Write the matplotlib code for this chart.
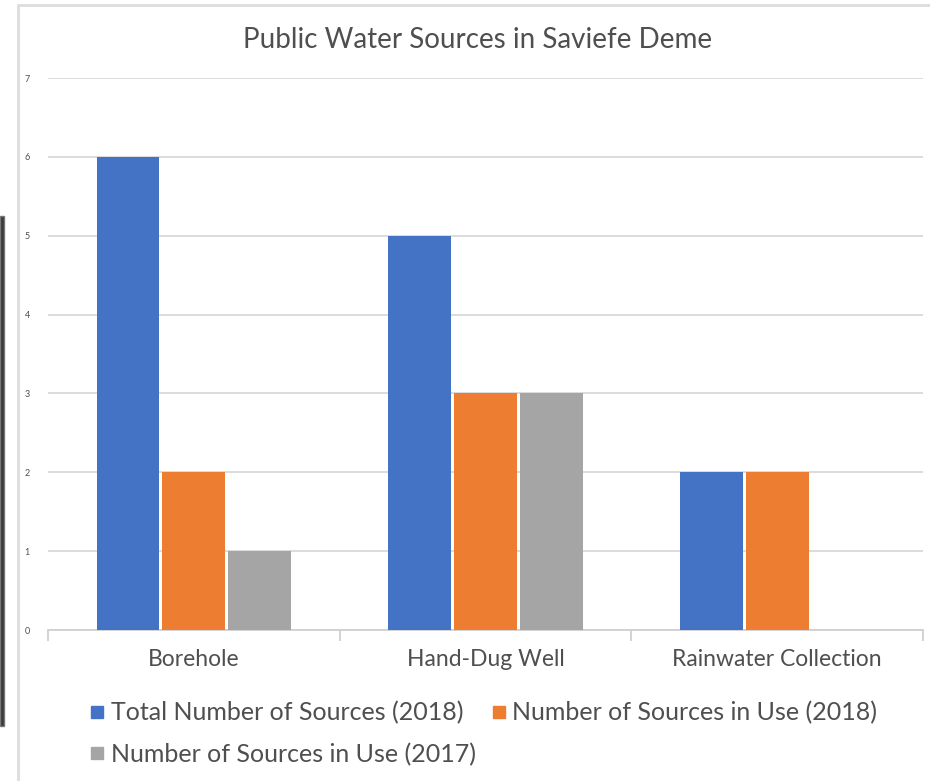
import numpy as np
import matplotlib
matplotlib.use("Agg")
import matplotlib.pyplot as plt
from matplotlib.patches import Rectangle
from matplotlib.lines import Line2D

# ── Data ──────────────────────────────────────────────────────────────
categories = ["Borehole", "Hand-Dug Well", "Rainwater Collection"]
series_names = [
    "Total Number of Sources (2018)",
    "Number of Sources in Use (2018)",
    "Number of Sources in Use (2017)",
]
total_2018 = [6, 5, 2]
in_use_2018 = [2, 3, 2]
in_use_2017 = [1, 3, 0]
y_ticks = [0, 1, 2, 3, 4, 5, 6, 7]

colors = ["#4472C4", "#ED7D31", "#A5A5A5"]
text_grey = "#4F4F4F"
grid_grey = "#D9D9D9"

plt.rcParams["font.family"] = ["Lato", "DejaVu Sans"]

W, H = 930, 781
fig = plt.figure(figsize=(W / 100, H / 100), dpi=100)
fig.patch.set_facecolor("white")

# chart frame (light border) and dark strip on the far left
fig.patches.append(Rectangle((17.5 / W, -0.05), 1.2, 1 - 4.5 / H + 0.05,
                             transform=fig.transFigure, fill=False,
                             edgecolor="#DDDDDD", linewidth=2))
fig.patches.append(Rectangle((0, 1 - 726 / H), 3.5 / W, 510 / H,
                             transform=fig.transFigure, facecolor="#3A3A3A",
                             edgecolor="#777777", linewidth=1))

ax = fig.add_axes([48 / W, 1 - 630 / H, (923 - 48) / W, (630 - 78) / H])

x = np.arange(len(categories))
bar_w = 0.215
gap = 0.011
series = [total_2018, in_use_2018, in_use_2017]
for i, (vals, c) in enumerate(zip(series, colors)):
    offs = (i - 1) * (bar_w + gap)
    ax.bar(x + offs, vals, width=bar_w, color=c, zorder=3)

ax.set_xlim(-0.5, len(categories) - 0.5)
ax.set_ylim(0, 7)
ax.set_yticks(y_ticks)
ax.set_yticklabels([str(t) for t in y_ticks], fontsize=6.5, color=text_grey)
ax.tick_params(axis="y", length=0, pad=13)
ax.yaxis.grid(True, color=grid_grey, linewidth=1.3, zorder=0)
ax.set_axisbelow(True)

# category labels, ticks at group boundaries
ax.set_xticks(x)
ax.set_xticklabels(categories, fontsize=16.5, color=text_grey)
ax.tick_params(axis="x", length=0, pad=14)
ax.set_xticks(np.arange(len(categories) + 1) - 0.5, minor=True)
ax.tick_params(axis="x", which="minor", length=8, width=1.3, color="#D0D0D0")

for side in ["top", "right", "left"]:
    ax.spines[side].set_visible(False)
ax.spines["bottom"].set_color("#D0D0D0")
ax.spines["bottom"].set_linewidth(1.3)

fig.text(478 / W, 1 - 40 / H, "Public Water Sources in Saviefe Deme",
         ha="center", va="center", fontsize=20, color=text_grey)

# legend, row-major order as in the reference
order = [0, 2, 1]
handles = [Line2D([], [], marker="s", linestyle="none", markersize=8,
                  color=colors[k]) for k in order]
labels = [series_names[k] for k in order]
fig.legend(handles, labels, ncol=2, loc="upper left",
           bbox_to_anchor=(76 / W, 1 - 689 / H), frameon=False,
           fontsize=18, labelcolor=text_grey, handletextpad=0.2,
           columnspacing=0.55, labelspacing=0.72, borderpad=0,
           handlelength=0.7)

fig.savefig("out.png", dpi=100, facecolor="white")
